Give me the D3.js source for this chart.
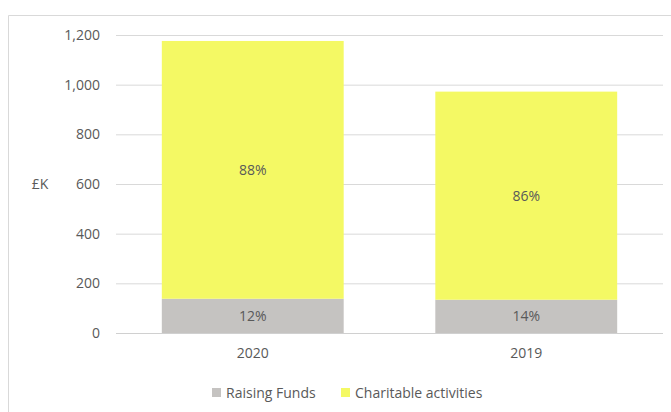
<!DOCTYPE html>
<html lang="en">

<head>
    <meta charset="UTF-8">
    <title>Expenditure</title>
    <style>
        body {
            margin: 0;
            background: #fff;
        }

        text {
            font-family: "Open Sans", "Liberation Sans", sans-serif;
            fill: #595959;
        }

        .domain {
            display: none;
        }
    </style>
</head>

<body>
    <svg width="671" height="412" id="svg"></svg>
    <script src="https://d3js.org/d3.v7.min.js"></script>
    <script>
        // data (£K)
        const years = ["2020", "2019"]
        const raisingFunds = [138, 134]
        const charitable = [1038, 838]
        const seriesNames = ["Raising Funds", "Charitable activities"]
        const seriesColors = ["#c5c3c1", "#f4f964"]
        const yTicks = [0, 200, 400, 600, 800, 1000, 1200]

        const svg = d3.select("svg#svg")

        // chart frame
        svg.append("path")
            .attr("d", "M8.5,412 V15.5 H671")
            .attr("fill", "none")
            .attr("stroke", "#d9d9d9")

        const plot = { left: 116, right: 663, top: 35, bottom: 333 }

        const xScale = d3.scaleBand().domain(years)
            .range([plot.left, plot.right])
            .paddingInner(0.335).paddingOuter(0.1675)
        const yScale = d3.scaleLinear().domain([0, 1200]).range([plot.bottom, plot.top])

        // grid + y labels
        const yAxis = svg.append("g")
            .attr("transform", `translate(${plot.left},0)`)
            .call(d3.axisLeft(yScale).tickValues(yTicks)
                .tickSize(-(plot.right - plot.left)).tickPadding(16)
                .tickFormat(d3.format(",")))
        yAxis.selectAll(".tick line").attr("stroke", "#d9d9d9")
        yAxis.selectAll(".tick text").attr("font-size", 14)

        svg.append("text").attr("x", 40).attr("y", yScale(600)).attr("dy", "0.35em")
            .attr("text-anchor", "middle").attr("font-size", 14).text("£K")

        // stacked bars
        const rows = years.map((y, i) => ({ year: y, raising: raisingFunds[i], charitable: charitable[i] }))
        const stack = d3.stack().keys(["raising", "charitable"])(rows)

        stack.forEach((layer, k) => {
            svg.append("g").selectAll("rect")
                .data(layer).join("rect")
                .attr("x", d => xScale(d.data.year))
                .attr("width", xScale.bandwidth())
                .attr("y", d => yScale(d[1]))
                .attr("height", d => yScale(d[0]) - yScale(d[1]))
                .attr("fill", seriesColors[k])

            svg.append("g").selectAll("text")
                .data(layer).join("text")
                .attr("x", d => xScale(d.data.year) + xScale.bandwidth() / 2)
                .attr("y", d => yScale((d[0] + d[1]) / 2))
                .attr("dy", "0.35em")
                .attr("text-anchor", "middle")
                .attr("font-size", 14)
                .text(d => Math.round((d[1] - d[0]) / (d.data.raising + d.data.charitable) * 100) + "%")
        })

        // baseline on top of bars
        svg.append("line")
            .attr("x1", plot.left).attr("x2", plot.right)
            .attr("y1", plot.bottom + 0.5).attr("y2", plot.bottom + 0.5)
            .attr("stroke", "#d0d0d0")

        // x labels
        const xAxis = svg.append("g")
            .attr("transform", `translate(0,${plot.bottom})`)
            .call(d3.axisBottom(xScale).tickSize(0).tickPadding(15))
        xAxis.selectAll(".tick text").attr("font-size", 14)

        // legend
        const legend = svg.append("g")
        const legendX = [212, 341]
        seriesNames.forEach((name, i) => {
            legend.append("rect")
                .attr("x", legendX[i]).attr("y", 388)
                .attr("width", 9).attr("height", 9)
                .attr("fill", seriesColors[i])
            legend.append("text")
                .attr("x", legendX[i] + 14).attr("y", 393).attr("dy", "0.35em")
                .attr("font-size", 14).text(name)
        })
    </script>
</body>

</html>
